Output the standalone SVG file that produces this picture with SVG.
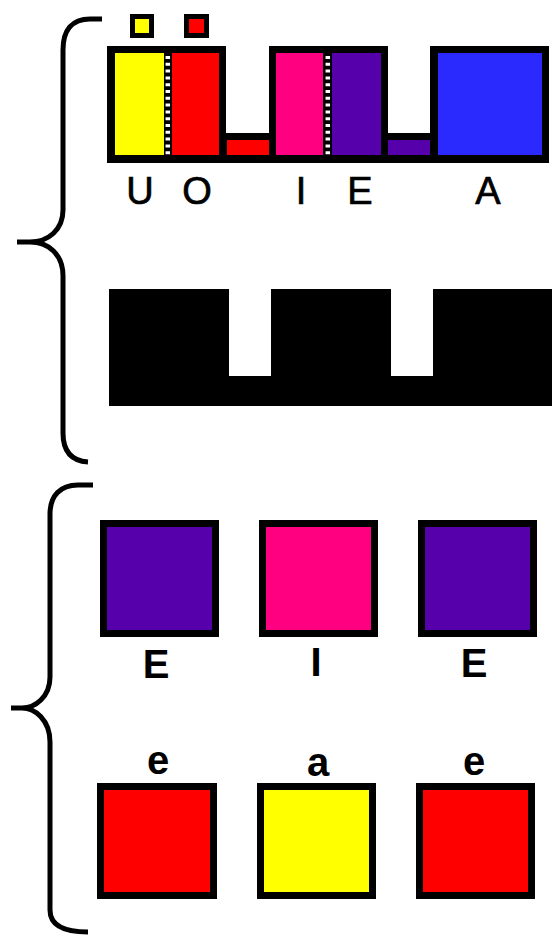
<svg xmlns="http://www.w3.org/2000/svg" width="558" height="938" viewBox="0 0 558 938">
<style>
.sq{stroke:#000;stroke-width:7}
.small{stroke:#000;stroke-width:5}
.brace{fill:none;stroke:#000;stroke-width:5;stroke-linecap:butt}
.lbl{font-family:"Liberation Sans",Arial,sans-serif;font-size:38px;text-anchor:middle;fill:#000;stroke:#000;stroke-width:0.7}
.lblb{font-family:"Liberation Sans",Arial,sans-serif;font-size:40px;font-weight:bold;text-anchor:middle;fill:#000}
.dots{stroke:#fff;stroke-width:4.5;stroke-dasharray:3 3.8}
</style>
<rect width="558" height="938" fill="#fff"/>
<g id="braces">
<path class="brace" d="M102,19 L90,19 C72,19 63,30 63,50 L63,210 C63,230 48,242 30,242 L17,242 M30,242 C48,242 63,254 63,276 L63,433 C63,452 72,461 88,462"/>
<path class="brace" d="M93,485 L78,485 C60,485 50,496 50,514 L50,677 C50,697 35,708 22,708 L11,708 M22,708 C35,708 50,720 50,742 L50,910 C50,926 64,932 88,932"/>
</g>
<g id="top-markers">
<rect class="small" x="132.5" y="16.5" width="19" height="19" fill="#ffff00"/>
<rect class="small" x="186.5" y="16.5" width="20" height="19" fill="#ff0000"/>
</g>
<g id="vowel-chart">
<path d="M107,46 H226 V133 H269 V46 H388 V133 H430 V46 H549 V163 H107 Z" fill="#000"/>
<rect x="115" y="53" width="49" height="102" fill="#ffff00"/>
<rect x="172" y="53" width="47" height="102" fill="#ff0000"/>
<line class="dots" x1="167.8" y1="56" x2="167.8" y2="155"/>
<rect x="227" y="140" width="42" height="15" fill="#ff0000"/>
<rect x="276" y="53" width="47" height="102" fill="#ff0080"/>
<rect x="332" y="53" width="49" height="102" fill="#5500aa"/>
<line class="dots" x1="327.8" y1="56" x2="327.8" y2="155"/>
<rect x="388" y="140" width="42" height="15" fill="#5500aa"/>
<rect x="438" y="53" width="104" height="102" fill="#2a2aff"/>
<text class="lbl" x="140" y="204">U</text>
<text class="lbl" x="197" y="204">O</text>
<text class="lbl" x="301" y="204">I</text>
<text class="lbl" x="360" y="204">E</text>
<text class="lbl" x="488" y="204">A</text>
</g>
<g id="silhouette">
<path d="M109,289 H229 V376 H271 V289 H391 V376 H433 V289 H552 V406 H109 Z" fill="#000"/>
</g>
<g id="row-upper">
<rect class="sq" x="103.5" y="523.5" width="112" height="110" fill="#5500aa"/>
<rect class="sq" x="262.5" y="523.5" width="112" height="110" fill="#ff0080"/>
<rect class="sq" x="421.5" y="523.5" width="112" height="110" fill="#5500aa"/>
<text class="lblb" x="156" y="678">E</text>
<text class="lblb" x="316" y="676">I</text>
<text class="lblb" x="474" y="677">E</text>
</g>
<g id="row-lower">
<rect class="sq" x="100.5" y="786.5" width="113" height="109" fill="#ff0000"/>
<rect class="sq" x="260.5" y="786.5" width="112" height="109" fill="#ffff00"/>
<rect class="sq" x="419.5" y="786.5" width="112" height="109" fill="#ff0000"/>
<text class="lblb" x="158" y="774">e</text>
<text class="lblb" x="318" y="776">a</text>
<text class="lblb" x="474" y="775">e</text>
</g>
</svg>
